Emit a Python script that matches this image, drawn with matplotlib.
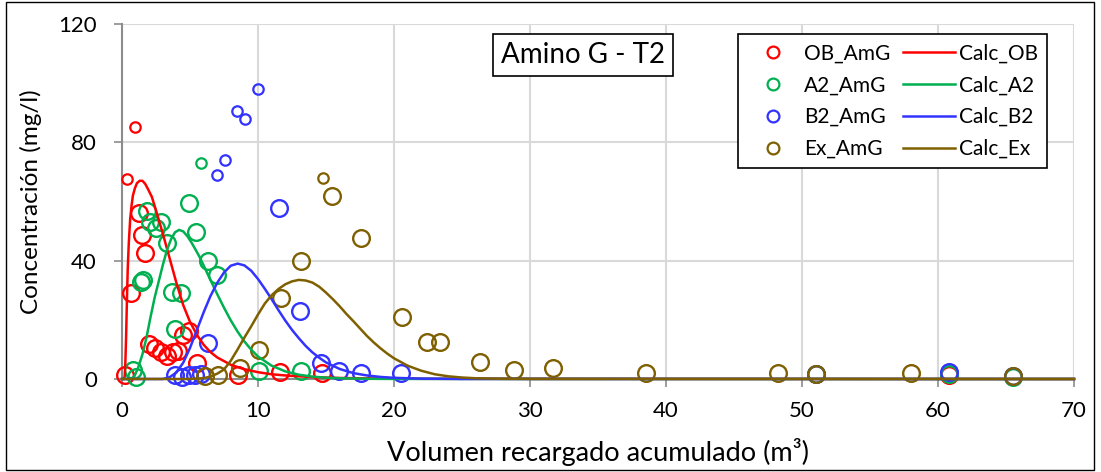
import matplotlib
matplotlib.use("Agg")
import matplotlib.pyplot as plt
from matplotlib.lines import Line2D
from matplotlib.patches import Rectangle

plt.rcParams['font.family'] = ['Lato', 'DejaVu Sans']

# ---------------- data ----------------
# measured points (large markers)
ob_x = [0.22, 0.66, 1.25, 1.45, 1.69, 1.95, 2.43, 2.85, 3.29, 3.72, 4.12, 4.51, 4.95, 5.5, 8.55, 11.62, 14.68, 60.8]
ob_y = [1.2, 29.2, 56.2, 48.7, 42.5, 11.8, 10.6, 9.2, 7.8, 9.2, 9.6, 14.9, 16.3, 5.3, 1.4, 2.3, 1.9, 1.5]
a2_x = [0.79, 1.03, 1.37, 1.55, 1.81, 2.06, 2.48, 2.85, 3.29, 3.65, 3.9, 4.34, 4.93, 5.44, 6.35, 7.01, 10.07, 13.17, 51.0, 60.8, 65.5]
a2_y = [3.0, 0.8, 32.9, 33.5, 56.9, 53.2, 50.9, 53.2, 45.9, 29.5, 16.9, 29.2, 59.6, 49.8, 39.9, 35.2, 2.8, 2.6, 1.7, 1.7, 0.6]
b2_x = [3.9, 4.4, 4.9, 5.4, 5.8, 6.35, 11.57, 13.09, 14.63, 15.98, 17.57, 20.49, 51.0, 60.8, 65.5]
b2_y = [1.5, 0.8, 1.3, 1.4, 1.6, 12.3, 57.7, 23.1, 5.3, 2.7, 2.1, 2.1, 1.7, 2.2, 1.1]
ex_x = [6.1, 7.08, 8.68, 10.1, 11.69, 13.16, 15.42, 17.6, 20.57, 22.4, 23.4, 26.3, 28.85, 31.67, 38.5, 48.2, 51.0, 58.0, 65.5]
ex_y = [1.0, 1.4, 3.6, 9.8, 27.3, 39.9, 61.9, 47.6, 20.9, 12.6, 12.4, 5.6, 3.0, 3.6, 1.9, 1.9, 1.7, 1.9, 0.9]

# measured points (small markers)
ob_s_x = [0.34, 0.96]
ob_s_y = [67.7, 85.1]
a2_s_x = [5.81]
a2_s_y = [72.9]
b2_s_x = [6.96, 7.57, 8.43, 9.04, 10.0]
b2_s_y = [69.0, 73.9, 90.7, 88.0, 98.0]
ex_s_x = [14.8]
ex_s_y = [68.1]

# calculated curves
calc_ob_x = [0, 0.15, 0.2, 0.25, 0.3, 0.36, 0.42, 0.5, 0.6, 0.7, 0.8, 0.95, 1.1, 1.3, 1.5, 1.7, 1.9, 2.2, 2.5,
             2.8, 3.1, 3.4, 3.7, 4.0, 4.5, 5.0, 5.5, 6.0, 6.5, 7.0, 8.0, 9.0, 10, 11, 12, 14, 16, 18, 22, 70]
calc_ob_y = [0, 0, 1, 6, 14, 26, 37, 46, 54, 58.5, 62, 64.5, 66.2, 67, 67, 66, 64.3, 61.5, 57,
             52.3, 47.5, 42.5, 37.5, 32.5, 25, 19.3, 15, 11.6, 9.1, 7.3, 4.8, 3.3, 2.3, 1.6, 1.2, 0.65, 0.35, 0.2, 0.07, 0]
calc_a2_x = [0, 0.6, 0.9, 1.2, 1.5, 1.8, 2.1, 2.4, 2.7, 3.0, 3.3, 3.6, 3.9, 4.2, 4.5, 4.8, 5.1, 5.4, 5.7, 6.0,
             6.5, 7.0, 7.5, 8.0, 8.5, 9.0, 9.5, 10, 11, 12, 13, 14, 15, 16, 18, 20, 70]
calc_a2_y = [0, 0, 0.8, 4.0, 8.3, 14, 21, 27.5, 33, 38.5, 43.5, 47.2, 49.6, 50.4, 49.9, 48.3, 46.2, 43.8, 41.3, 38.4,
             33.5, 28.7, 24.1, 19.8, 16.0, 12.7, 9.9, 7.6, 4.5, 2.6, 1.45, 0.8, 0.45, 0.25, 0.08, 0.03, 0]
calc_b2_x = [0, 3.0, 3.5, 4.0, 4.5, 5.0, 5.5, 6.0, 6.5, 7.0, 7.5, 8.0, 8.5, 9.0, 9.5, 10.0, 10.5, 11.0, 11.5,
             12.0, 12.5, 13.0, 13.5, 14.0, 14.5, 15, 16, 17, 18, 19, 20, 22, 25, 70]
calc_b2_y = [0, 0, 0.6, 2.2, 5.5, 10.5, 16.5, 22.5, 28, 32.5, 36, 38.3, 39.0, 38.4, 36.6, 33.8, 30.5, 27.0, 23.3,
             19.8, 16.6, 13.8, 11.2, 9.0, 7.2, 5.6, 3.4, 2.0, 1.2, 0.7, 0.4, 0.12, 0.02, 0]
calc_ex_x = [0, 5.0, 6.0, 6.5, 7.0, 7.5, 8.0, 8.5, 9.0, 9.5, 10.0, 10.5, 11.0, 11.5, 12.0, 12.5, 13.0, 13.5,
             14.0, 14.5, 15.0, 15.5, 16.0, 16.5, 17.0, 17.5, 18.0, 18.5, 19.0, 19.5, 20.0, 21.0, 22.0, 23.0,
             24.0, 25.0, 26.0, 28.0, 30, 70]
calc_ex_y = [0, 0, 0.3, 0.8, 1.8, 3.2, 6.2, 10, 14, 17.8, 21.8, 25.5, 28.3, 30.4, 32.0, 33.0, 33.5, 33.3,
             32.6, 31.2, 29.2, 27.0, 24.6, 22.0, 19.6, 17.1, 14.6, 12.4, 10.4, 8.6, 7.0, 4.5, 2.8, 1.6,
             0.9, 0.5, 0.25, 0.07, 0.02, 0]

labels_meas = ['OB_AmG', 'A2_AmG', 'B2_AmG', 'Ex_AmG']
labels_calc = ['Calc_OB', 'Calc_A2', 'Calc_B2', 'Calc_Ex']
colors = ['#FF0000', '#00B050', '#3333FF', '#7F6000']

x_ticks = [0, 10, 20, 30, 40, 50, 60, 70]
y_ticks = [0, 40, 80, 120]

# ---------------- figure ----------------
W, H = 1101, 472
fig = plt.figure(figsize=(W / 100, H / 100), dpi=100)
L, R, T, B = 122, 1074, 24, 379
ax = fig.add_axes([L / W, 1 - B / H, (R - L) / W, (B - T) / H])

ax.set_xlim(0, 70)
ax.set_ylim(0, 120)
ax.set_xticks(x_ticks)
ax.set_yticks(y_ticks)
ax.grid(True, color='#D9D9D9', linewidth=1.5)
ax.set_axisbelow(True)
for s in ['top', 'right']:
    ax.spines[s].set_visible(False)
ax.spines['left'].set_color('#8C8C8C')
ax.spines['left'].set_linewidth(1.5)
ax.spines['bottom'].set_color('#8C8C8C')
ax.spines['bottom'].set_linewidth(1.5)
ax.tick_params(axis='both', colors='#8C8C8C', length=6, width=1.2, labelcolor='black', labelsize=16)
ax.tick_params(axis='x', pad=10)
ax.tick_params(axis='y', pad=12)

big = [(ob_x, ob_y), (a2_x, a2_y), (b2_x, b2_y), (ex_x, ex_y)]
small = [(ob_s_x, ob_s_y), (a2_s_x, a2_s_y), (b2_s_x, b2_s_y), (ex_s_x, ex_s_y)]
calc = [(calc_ob_x, calc_ob_y), (calc_a2_x, calc_a2_y), (calc_b2_x, calc_b2_y), (calc_ex_x, calc_ex_y)]

for (sx, sy), c in zip(small, colors):
    ax.plot(sx, sy, linestyle='none', marker='o', markersize=7.5, markerfacecolor='none',
            markeredgecolor=c, markeredgewidth=1.6, clip_on=False, zorder=3)
for (bx, by), c in zip(big, colors):
    ax.plot(bx, by, linestyle='none', marker='o', markersize=12, markerfacecolor='none',
            markeredgecolor=c, markeredgewidth=1.7, clip_on=False, zorder=3)
for (cx, cy), c in zip(calc, colors):
    ax.plot(cx, cy, color=c, linewidth=1.8, zorder=4, clip_on=False)

ax.set_xlabel('Volumen recargado acumulado (m³)', fontsize=19.5, labelpad=12)
ax.set_ylabel('Concentración (mg/l)', fontsize=17.5, labelpad=12)

handles = [Line2D([], [], linestyle='none', marker='o', markersize=8.5, markerfacecolor='none',
                  markeredgecolor=c, markeredgewidth=1.6) for c in colors]
handles += [Line2D([], [], color=c, linewidth=1.8) for c in colors]
leg = ax.legend(handles, labels_meas + labels_calc, ncol=2, fontsize=15,
                loc='upper left', bbox_to_anchor=((738 - L) / (R - L), (B - 34) / (B - T)),
                frameon=True, fancybox=False, edgecolor='black', framealpha=1,
                handlelength=2.5, handletextpad=0.2, columnspacing=0.6,
                labelspacing=0.57, borderpad=0.45, borderaxespad=0)
leg.get_frame().set_linewidth(1.2)
leg.set_zorder(10)

ax.text((583 - L) / (R - L), (B - 55) / (B - T), 'Amino G - T2', transform=ax.transAxes,
        ha='center', va='center', fontsize=20, zorder=10,
        bbox=dict(boxstyle='square,pad=0.3', facecolor='white', edgecolor='black', linewidth=1.2))

fig.patches.append(Rectangle((6 / W, 2 / H), (1094 - 6) / W, (470 - 2) / H, transform=fig.transFigure,
                             fill=False, edgecolor='black', linewidth=1.0))

fig.savefig('out.png', dpi=100)
